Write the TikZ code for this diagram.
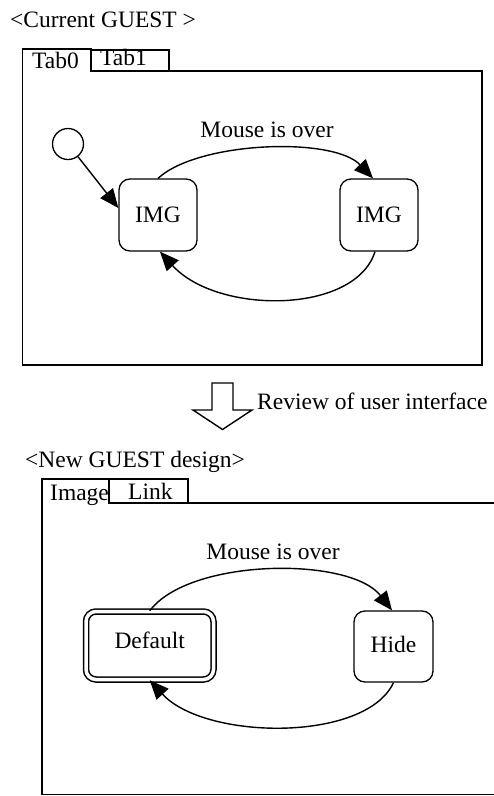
\documentclass[tikz,border=0pt]{standalone}
\usepackage{fontspec}
\setmainfont{Liberation Serif}
\usetikzlibrary{arrows.meta}
\begin{document}
\begin{tikzpicture}[x=1pt,y=-1pt,
  every node/.style={font=\fontsize{23.5}{28}\selectfont, inner sep=0pt},
  frame/.style={line width=1.5pt},
  state/.style={draw, line width=1.3pt, rounded corners=11pt},
  trans/.style={line width=1.4pt, -{Triangle[length=19pt,width=16pt]}},
  bigarrow/.style={line width=1.4pt, fill=white, line join=miter}
]
\useasboundingbox (0,0) rectangle (494,796);

% ---------- upper panel: current design ----------
\node[anchor=base west] (curtitle) at (10,27) {<Current GUEST >};

% tabbed frame, Tab0 active
\draw[frame] (22.7,365) -- (22.7,49) -- (91,49) -- (91,71) -- (482,71) -- (482,365) -- cycle;
\draw[frame] (91,71) -- (91,50) -- (169,50) -- (169,71);
\node[anchor=base west] (tabzero) at (32,68) {Tab0};
\node[anchor=base west] (tabone) at (100,65) {Tab1};

% states
\node[draw, circle, minimum size=31pt, line width=1.3pt] (init) at (68,144) {};
\node[state, minimum width=78pt, minimum height=72pt] (imgA) at (158,215) {IMG};
\node[state, minimum width=78pt, minimum height=72pt] (imgB) at (379,215) {IMG};

% transitions
\draw[trans] (init) -- ([yshift=7pt]imgA.west);
\draw[trans] (imgA.north) .. controls +(40,-37) and +(-40,-42) .. ([xshift=-6pt]imgB.north);
\node[anchor=base] (overA) at (267,137) {Mouse is over};
\draw[trans] ([xshift=-4pt]imgB.south) .. controls +(-20,63) and +(57,63) .. ([xshift=2pt]imgA.south);

% ---------- review step ----------
\draw[bigarrow] (212,383) -- (233,383) -- (233,410) -- (252,410) -- (222.5,429.5)
  -- (193,410) -- (212,410) -- cycle;
\node[anchor=base west] (review) at (257,409) {Review of user interface};

% ---------- lower panel: new design ----------
\node[anchor=base west] (newtitle) at (25,467) {<New GUEST design>};

\draw[frame] (494,503) -- (188,503) -- (188,479) -- (42,479) -- (42,794.5) -- (494,794.5);
\draw[frame] (109,479) -- (109,503) -- (188,503);
\node[anchor=base west] (tabimage) at (50,500) {Image};
\node[anchor=base west] (tablink) at (128,499) {Link};

\node[state, double, double distance=3.5pt, line width=1.5pt, rounded corners=10pt,
      minimum width=127.5pt, minimum height=68pt] (default) at (149.75,645.5) {\raisebox{10pt}{Default}};
\node[state, minimum width=79pt, minimum height=71pt] (hide) at (393.5,646.5) {\raisebox{5pt}{Hide}};

\node[anchor=base] (overB) at (273,559) {Mouse is over};
\draw[trans] (default.north) .. controls +(40,-53) and +(-42,-54) .. ([xshift=-1.5pt]hide.north);
\draw[trans] (hide.south) .. controls +(-28,60) and +(55,60) .. (default.south);
\end{tikzpicture}
\end{document}
